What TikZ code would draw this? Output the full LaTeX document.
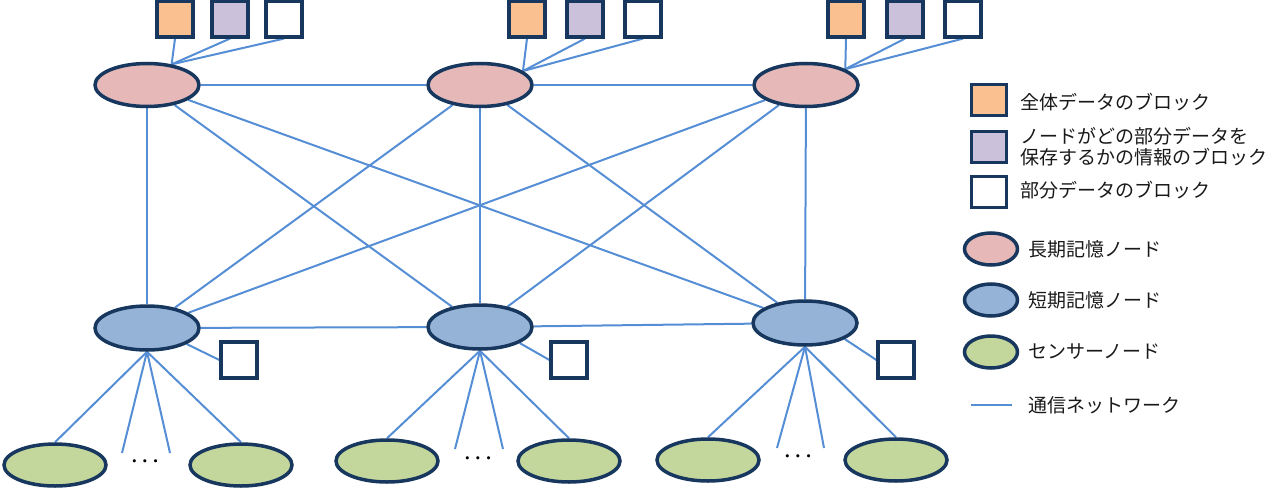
\documentclass[tikz,border=0pt]{standalone}
\usepackage{amsmath}
\usepackage{fontspec}
\setmainfont{Noto Sans CJK JP}
\usetikzlibrary{shapes.geometric,backgrounds}
\definecolor{navy}{RGB}{23,55,94}
\definecolor{netblue}{RGB}{85,142,213}
\definecolor{longfill}{RGB}{230,185,184}
\definecolor{shortfill}{RGB}{149,179,215}
\definecolor{sensfill}{RGB}{195,214,155}
\definecolor{allfill}{RGB}{250,192,144}
\definecolor{infofill}{RGB}{204,193,218}

\begin{document}
\begin{tikzpicture}[x=1pt,y=-1pt,
	nd/.style={ellipse,draw=navy,line width=3.5pt,inner sep=0pt,minimum width=104pt,minimum height=43pt},
	longnd/.style={nd,fill=longfill},
	shortnd/.style={nd,fill=shortfill,minimum height=44pt},
	sensnd/.style={nd,fill=sensfill,minimum width=102pt,minimum height=42pt},
	blk/.style={draw=navy,line width=3.2pt,inner sep=0pt,minimum size=36pt,fill=white},
	legblk/.style={blk,minimum width=35pt,minimum height=31pt},
	legnd/.style={nd,minimum width=53pt,minimum height=32pt},
	net/.style={draw=netblue,line width=2pt},
	dots/.style={inner sep=0pt,font=\fontsize{22}{22}\selectfont},
	lbl/.style={anchor=west,inner sep=0pt,text=black!90,font=\fontsize{19}{21}\selectfont,align=left}]
\useasboundingbox (0,0) rectangle (1281,492);

% long-term nodes
\node[longnd](L1) at (147,85) {};
\node[longnd](L2) at (480,85) {};
\node[longnd](L3) at (806,85) {};
% short-term nodes
\node[shortnd](S1) at (147,328) {};
\node[shortnd](S2) at (480,327) {};
\node[shortnd](S3) at (805,323) {};
% sensor nodes
\node[sensnd](A1) at (55,465) {};
\node[sensnd](A2) at (241,465) {};
\node[sensnd](B1) at (387,461) {};
\node[sensnd](B2) at (569,461) {};
\node[sensnd](C1) at (708,460) {};
\node[sensnd](C2) at (896,460) {};
\coordinate (a1) at (122,453); \coordinate (a2) at (170,453);
\coordinate (b1) at (455,449); \coordinate (b2) at (503,449);
\coordinate (c1) at (777,448); \coordinate (c2) at (824,448);
\node[dots](da) at (147,462) {$\boldsymbol{\cdots}$};
\node[dots](db) at (480,459) {$\boldsymbol{\cdots}$};
\node[dots](dc) at (800,457) {$\boldsymbol{\cdots}$};

% blocks at the long-term nodes
\node[blk,fill=allfill](L1a) at (175,19) {};
\node[blk,fill=infofill](L1b) at (230,19) {};
\node[blk](L1c) at (284,19) {};
\node[blk,fill=allfill](L2a) at (527,19) {};
\node[blk,fill=infofill](L2b) at (585,19) {};
\node[blk](L2c) at (643,19) {};
\node[blk,fill=allfill](L3a) at (846,19) {};
\node[blk,fill=infofill](L3b) at (905,19) {};
\node[blk](L3c) at (963,19) {};
% blocks at the short-term nodes
\node[blk](S1a) at (239,360) {};
\node[blk](S2a) at (569,360) {};
\node[blk](S3a) at (896,360) {};

\begin{scope}[on background layer]
\foreach \b in {a,b,c} {
	\draw[net] (L1\b.south) -- (L1.40);
	\draw[net] (L2\b.south) -- (L2.18);
	\draw[net] (L3\b.south) -- (L3.22);
}
\draw[net] (L1) -- (L2) -- (L3);
\draw[net] (S1) -- (S2) -- (S3);
\foreach \l in {L1,L2,L3}
	\foreach \s in {S1,S2,S3}
		\draw[net] (\l) -- (\s);
\foreach \s/\p in {S1/A,S2/B,S3/C} {
	\draw[net] (\s.-22) -- (\s a.west);
	\draw[net] (\s.south) -- (\p1.north);
	\draw[net] (\s.south) -- (\p2.north);
}
\draw[net] (S1.south) -- (a1); \draw[net] (S1.south) -- (a2);
\draw[net] (S2.south) -- (b1); \draw[net] (S2.south) -- (b2);
\draw[net] (S3.south) -- (c1); \draw[net] (S3.south) -- (c2);
\end{scope}

% legend
\node[legblk,fill=allfill](k1) at (989,100) {};
\node[legblk,fill=infofill](k2) at (989,147) {};
\node[legblk](k3) at (989,192) {};
\node[legnd,fill=longfill](k4) at (991,249) {};
\node[legnd,fill=shortfill](k5) at (991,300) {};
\node[legnd,fill=sensfill](k6) at (991,352) {};
\coordinate (k7a) at (971,405); \coordinate (k7b) at (1012,405);
\draw[net] (k7a) -- (k7b);
\node[lbl](t1) at (1020,102) {全体データのブロック};
\node[lbl](t2) at (1020,147) {ノードがどの部分データを\\保存するかの情報のブロック};
\node[lbl](t3) at (1020,190) {部分データのブロック};
\node[lbl](t4) at (1028,249) {長期記憶ノード};
\node[lbl](t5) at (1028,300) {短期記憶ノード};
\node[lbl](t6) at (1028,352) {センサーノード};
\node[lbl](t7) at (1028,405) {通信ネットワーク};
\end{tikzpicture}
\end{document}
